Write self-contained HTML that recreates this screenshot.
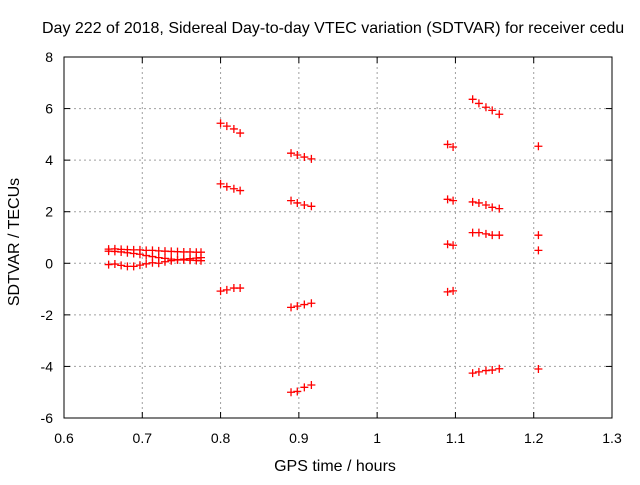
<!DOCTYPE html>
<html><head><meta charset="utf-8"><style>
body{margin:0;background:#fff;font-family:"Liberation Sans",sans-serif}
svg text{font-family:"Liberation Sans",sans-serif;font-size:14px;fill:#000}
</style></head><body>
<svg id="chart" width="640" height="480" xmlns="http://www.w3.org/2000/svg">
<text x="42" y="33" style="font-size:16px">Day 222 of 2018, Sidereal Day-to-day VTEC variation (SDTVAR) for receiver cedu</text>
<text x="335" y="471" text-anchor="middle" style="font-size:16px">GPS time / hours</text>
<text transform="translate(19,242) rotate(-90)" text-anchor="middle" style="font-size:16px">SDTVAR / TECUs</text>
<g id="grid"></g>
<g id="ticks"></g>
<g id="marks"></g>
<rect x="64" y="57" width="548" height="361" fill="none" stroke="#000" stroke-width="1"/>
</svg>
<script>
const xTicks=[0.6,0.7,0.8,0.9,1,1.1,1.2,1.3];
const xTickLabels=["0.6","0.7","0.8","0.9","1","1.1","1.2","1.3"];
const yTicks=[-6,-4,-2,0,2,4,6,8];
const yTickLabels=["-6","-4","-2","0","2","4","6","8"];
const clusterX=[0.657,0.665,0.673,0.681,0.689,0.697,0.705,0.713,0.721,0.729,0.737,0.745,0.753,0.761,0.769,0.775];
const clusterA=[0.55,0.56,0.54,0.53,0.52,0.52,0.50,0.50,0.48,0.47,0.46,0.45,0.44,0.44,0.43,0.43];
const clusterB=[0.47,0.46,0.44,0.41,0.38,0.35,0.30,0.26,0.22,0.19,0.16,0.14,0.13,0.12,0.11,0.10];
const clusterC=[-0.05,-0.03,-0.08,-0.12,-0.12,-0.07,-0.02,0.02,0.00,0.06,0.10,0.13,0.16,0.18,0.20,0.22];
const g1X=[0.800,0.808,0.817,0.825];
const g1Y=[[5.43,5.32,5.21,5.05],[3.08,2.97,2.89,2.82],[-1.08,-1.03,-0.96,-0.96]];
const g2X=[0.890,0.898,0.907,0.916];
const g2Y=[[4.27,4.20,4.12,4.05],[2.43,2.34,2.26,2.21],[-1.71,-1.66,-1.60,-1.55],[-5.0,-4.97,-4.81,-4.72]];
const g3X=[1.090,1.097];
const g3Y=[[4.61,4.51],[2.48,2.43],[0.74,0.70],[-1.11,-1.07]];
const g4X=[1.122,1.130,1.139,1.147,1.156];
const g4Y=[[6.36,6.20,6.05,5.93,5.78],[2.38,2.34,2.26,2.17,2.12],[1.19,1.19,1.14,1.09,1.09],[-4.26,-4.21,-4.16,-4.14,-4.09]];
const g5X=[1.206];
const g5Y=[[4.54],[1.09],[0.50],[-4.1]];
const X=v=>64+(v-0.6)/0.7*548, Y=v=>418-(v+6)/14*361;
const NS="http://www.w3.org/2000/svg";
function mk(tag,parent,attrs){const e=document.createElementNS(NS,tag);for(const k in attrs)e.setAttribute(k,attrs[k]);parent.appendChild(e);return e;}
const grid=document.getElementById('grid'),ticks=document.getElementById('ticks'),marks=document.getElementById('marks');
xTicks.forEach((t,i)=>{const x=X(t);
 if(i>0&&i<xTicks.length-1){const l=mk('line',grid,{x1:x,x2:x,y1:57,y2:418,stroke:'#a0a0a0','stroke-dasharray':'2,3'});
 
 }
 mk('line',ticks,{x1:x,x2:x,y1:418,y2:412,stroke:'#000'});mk('line',ticks,{x1:x,x2:x,y1:57,y2:63,stroke:'#000'});
 const tx=mk('text',ticks,{x:x,y:443,'text-anchor':'middle'});tx.textContent=xTickLabels[i];
 
 });
yTicks.forEach((t,i)=>{const y=Y(t);
 if(i>0&&i<yTicks.length-1){const l=mk('line',grid,{x1:64,x2:612,y1:y,y2:y,stroke:'#a0a0a0','stroke-dasharray':'2,3'});
 
 }
 mk('line',ticks,{x1:64,x2:70,y1:y,y2:y,stroke:'#000'});mk('line',ticks,{x1:612,x2:606,y1:y,y2:y,stroke:'#000'});
 const tx=mk('text',ticks,{x:53,y:y+5,'text-anchor':'end'});tx.textContent=yTickLabels[i];
 
 });
function plus(xv,yv){const x=X(xv),y=Y(yv);
 const p=mk('path',marks,{d:`M${x-4},${y}h8M${x},${y-4}v8`,stroke:'#f00','stroke-width':1.3,fill:'none'});
 
 }
[clusterA,clusterB,clusterC].forEach(r=>r.forEach((v,i)=>plus(clusterX[i],v)));
[[g1X,g1Y],[g2X,g2Y],[g3X,g3Y],[g4X,g4Y],[g5X,g5Y]].forEach(([xs,ys])=>ys.forEach(r=>r.forEach((v,i)=>plus(xs[i],v))));
</script>
</body></html>
